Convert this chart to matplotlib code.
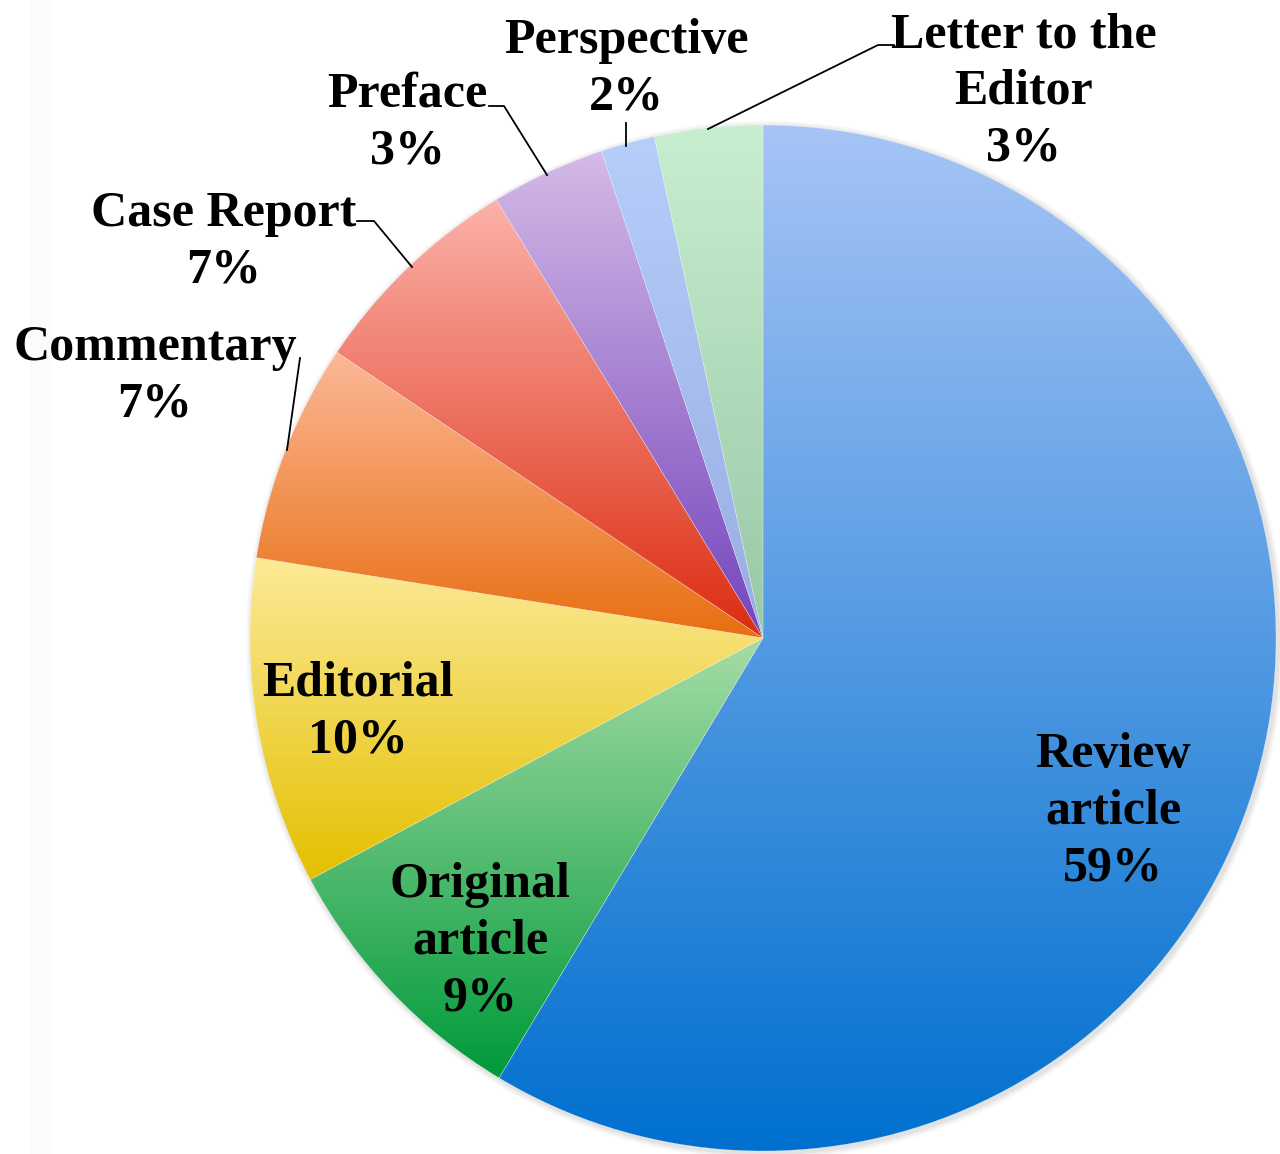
#pie chart of publication types with excel-like vertical gradient fills
import numpy as np
import matplotlib.pyplot as plt
from matplotlib.colors import LinearSegmentedColormap
from matplotlib.patches import Circle, Rectangle

#article types, clockwise from 12 o'clock
types = ['Review\narticle', 'Original\narticle', 'Editorial', 'Commentary',
         'Case Report', 'Preface', 'Perspective', 'Letter to the\nEditor']
#shares
shares = [58.6, 8.6, 10.3, 6.9, 6.9, 3.6, 1.7, 3.4]
#percent labels as printed
pct_labels = ['59%', '9%', '10%', '7%', '7%', '3%', '2%', '3%']

#gradient colours (top, bottom) per wedge
top_colors = ['#a6c4f6', '#a6dca6', '#fcea98', '#fcb898', '#fcb2aa', '#d4bae6', '#b6cefa', '#c8eed0']
bottom_colors = ['#0070cf', '#009a3a', '#e4c000', '#e86e10', '#dc2c10', '#7444bc', '#98ace2', '#98c8a6']

W, H = 1280, 1154
fig = plt.figure(figsize=(W / 100, H / 100), dpi=100)
ax = fig.add_axes([0, 0, 1, 1])

def py(y):
    #image row to data y
    return H - y

cx, cy, r = 763, py(638), 513

#faint strip on the left and soft shadow behind the pie
ax.add_patch(Rectangle((30, 0), 22, H, color='#fbfbfb', lw=0, zorder=0))
for k, a in enumerate([0.10, 0.08, 0.06]):
    ax.add_patch(Circle((cx + 2, cy - 2), r + 2 + 2 * k, color='grey', alpha=a, lw=0, zorder=0))

wedges, _ = ax.pie(shares, center=(cx, cy), radius=r, startangle=90, counterclock=False,
                   wedgeprops=dict(edgecolor=(1, 1, 1, 0.5), linewidth=0.3))

grad = np.linspace(0, 1, 256).reshape(-1, 1)
for w, c0, c1 in zip(wedges, top_colors, bottom_colors):
    w.set_facecolor('none')
    w.set_zorder(3)
    bb = w.get_path().get_extents(w.get_patch_transform())
    cmap = LinearSegmentedColormap.from_list('g', [c0, c1])
    im = ax.imshow(grad, cmap=cmap, aspect='auto', origin='upper',
                   extent=(bb.x0, bb.x1, bb.y0, bb.y1), zorder=2, interpolation='bilinear')
    im.set_clip_path(w)

ax.set_xlim(0, W)
ax.set_ylim(0, H)
ax.set_aspect('auto')
ax.axis('off')

font = dict(family='Liberation Serif', weight='bold', size=36, ha='center', va='center',
            linespacing=1.3, zorder=5)

#label centres in image pixels
label_pos = [(1113, 812), (480, 942), (358, 712), (155, 376), (224, 242), (407, 123), (626, 69), (1024, 92)]
for name, pct, (x, y) in zip(types, pct_labels, label_pos):
    ax.text(x, py(y), name + '\n' + pct, **font)

#leader lines
leaders = [
    [(894, 45), (878, 45), (708, 129)],
    [(626, 123), (626, 146)],
    [(489, 106), (504, 106), (547, 175)],
    [(357, 221), (374, 221), (412, 267)],
    [(300, 358), (287, 450)],
]
for pts in leaders:
    xs = [p[0] for p in pts]
    ys = [py(p[1]) for p in pts]
    ax.plot(xs, ys, color='black', lw=1.3, zorder=4)

fig.savefig('out.png', dpi=100)
